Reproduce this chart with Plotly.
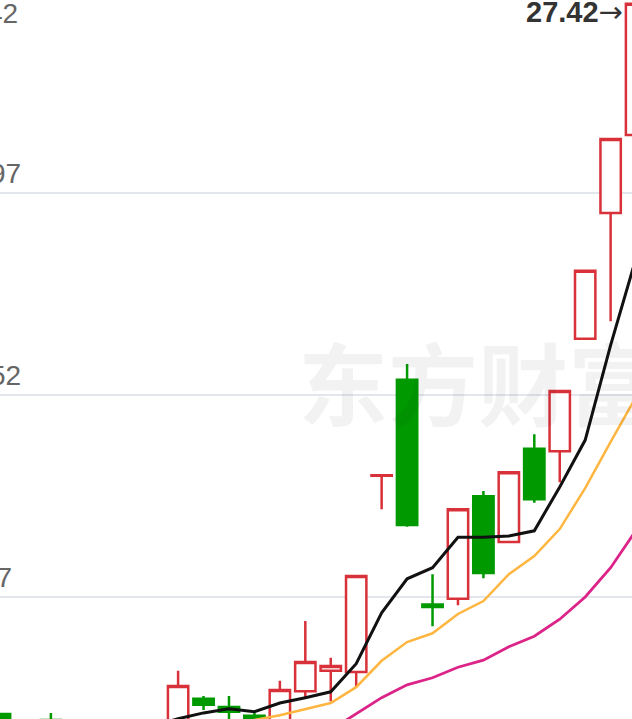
import plotly.graph_objects as go

# ---- data ----
days = list(range(26))
opens  = [15.07, None, 14.97, None, None, None, None,
          14.95, 15.33, 15.19, 15.04, 14.95, 15.46, 15.81, 15.79, 19.14,
          20.78, 16.94, 17.04, 18.79, 18.01, 19.60, 19.56, 21.48, 23.63, 24.96]
highs  = [15.09, None, 15.09, None, None, None, None,
          15.81, 15.38, 15.38, 15.09, 15.64, 16.66, 16.03, 17.43, 19.15,
          21.05, 17.46, 18.57, 18.88, 19.20, 19.85, 20.59, 22.64, 24.89, 27.42]
lows   = [14.90, None, 14.80, None, None, None, None,
          14.90, 15.14, 14.95, 14.90, 14.90, 15.33, 15.29, 15.53, 18.57,
          18.27, 16.57, 16.93, 17.39, 18.01, 18.68, 19.03, 21.48, 21.78, 24.96]
closes = [14.95, None, 14.85, None, None, None, None,
          15.55, 15.23, 15.11, 14.96, 15.48, 15.96, 15.89, 17.43, 19.15,
          18.30, 16.90, 18.57, 17.48, 19.20, 18.74, 20.59, 22.64, 24.89, 27.20]

ma5  = [None, None, None, None, None, None, 14.87,
        14.99, 15.09, 15.16, 15.11, 15.26, 15.35, 15.45, 15.93, 16.80,
        17.38, 17.57, 18.09, 18.09, 18.11, 18.20, 18.95, 19.75, 21.37, 22.86]
ma10 = [None, None, None, None, None, None, None, None, None,
        14.85, 14.97, 15.05, 15.16, 15.26, 15.53, 15.98,
        16.30, 16.45, 16.78, 17.00, 17.46, 17.77, 18.23, 18.93, 19.72, 20.49]
ma20 = [None] * 13 + [14.80, 15.07, 15.35,
        15.57, 15.69, 15.87, 15.99, 16.22, 16.40, 16.69, 17.07, 17.57, 18.21]

grid_vals = [17.07, 20.52, 23.97, 27.42]
grid_labels = ["17.07", "20.52", "23.97", "27.42"]
max_label = "27.42"
max_arrow = "→"
watermark = "东方财富"

W, H = 632, 719
RED = "#d8313a"
GREEN = "#009a00"

fig = go.Figure()
fig.add_trace(go.Candlestick(
    x=days, open=opens, high=highs, low=lows, close=closes,
    increasing=dict(line=dict(color=RED, width=2.5), fillcolor="white"),
    decreasing=dict(line=dict(color=GREEN, width=2.5), fillcolor=GREEN),
    whiskerwidth=0, hoverinfo="skip", showlegend=False,
))
for vals, col, w in [(ma20, "#dc2388", 2.8), (ma10, "#ffb640", 2.5), (ma5, "#111111", 3.0)]:
    fig.add_trace(go.Scatter(x=days, y=vals, mode="lines",
                             line=dict(color=col, width=w),
                             hoverinfo="skip", showlegend=False))

annotations = []
# y labels (cropped at left edge)
label_pos = {"27.42": (20, 13.5), "23.97": (23, 173), "20.52": (23, 375.5), "17.07": (14, 577.5)}
for lab in grid_labels:
    px, py = label_pos[lab]
    annotations.append(dict(xref="paper", yref="paper", x=px / W, y=1 - py / H,
                            xanchor="right", yanchor="middle", showarrow=False,
                            text=lab, font=dict(family="Liberation Sans", size=28, color="#666666")))
annotations.append(dict(xref="paper", yref="paper", x=625 / W, y=1 - 12 / H,
                        xanchor="right", yanchor="middle", showarrow=False,
                        text="<b>" + max_label + "</b><span style='font-family:DejaVu Sans'>"
                             + max_arrow + "</span>",
                        font=dict(family="Liberation Sans", size=29, color="#333333")))
annotations.append(dict(xref="paper", yref="paper", x=296 / W, y=1 - 380 / H,
                        xanchor="left", yanchor="middle", showarrow=False,
                        text="<b>" + watermark + "</b>",
                        font=dict(family="Noto Sans CJK SC", size=90, color="rgba(0,0,0,0.05)")))

fig.update_layout(
    width=W, height=H, margin=dict(l=0, r=0, t=0, b=0),
    paper_bgcolor="white", plot_bgcolor="white",
    boxgap=0.2, boxgroupgap=0,
    annotations=annotations,
    xaxis=dict(range=[0, 24.84], visible=False, rangeslider=dict(visible=False),
               showgrid=False, zeroline=False),
    yaxis=dict(range=[14.986, 27.266], tickvals=grid_vals[:3], showticklabels=False,
               showgrid=True, gridcolor="#e4e6ee", gridwidth=2, zeroline=False,
               showline=False, ticks=""),
)
fig.write_html("out.html", config={"displayModeBar": False},
               post_script="document.body.style.margin='0';document.body.style.overflow='hidden';")
